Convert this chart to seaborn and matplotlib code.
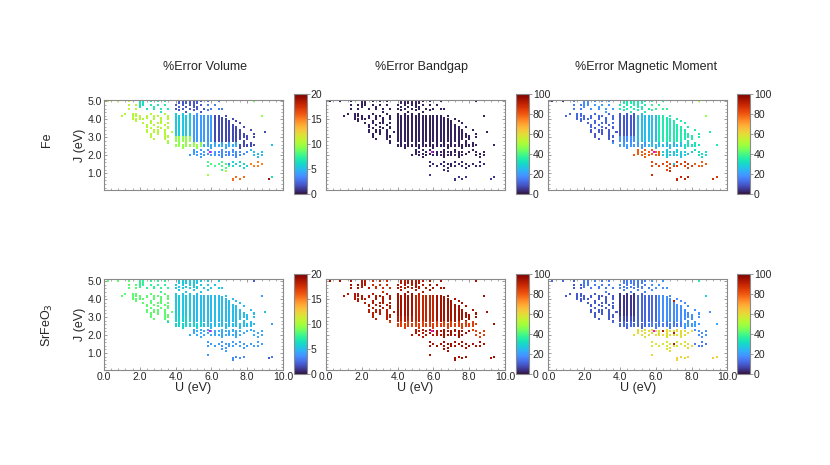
import numpy as np
import pandas as pd
import matplotlib
matplotlib.use("Agg")
import matplotlib.pyplot as plt
import seaborn as sns
from matplotlib.ticker import MultipleLocator, AutoMinorLocator
from matplotlib.cm import ScalarMappable
from matplotlib.colors import Normalize

# J values of the grid rows (eV), U runs every 0.2 eV from 0 to 10
j_rows = [5.0, 4.9, 4.8, 4.7, 4.6, 4.5, 4.4, 4.3, 4.2, 4.1, 4.0, 3.9, 3.8, 3.7, 3.6,
          3.5, 3.4, 3.3, 3.2, 3.1, 3.0, 2.9, 2.8, 2.7, 2.6, 2.5, 2.4, 2.3, 2.2, 2.1,
          2.0, 1.9, 1.8, 1.7, 1.6, 1.5, 1.4, 1.3, 1.2, 1.1, 1.0, 0.9, 0.8, 0.7, 0.6]

# which (U, J) runs exist, and which region of the map they belong to
zone_map = [
    "aa..a..b.." "cc.d.d.d.." ".ggggggg.h" "..h......." "..z........",
    ".........." "cc........" ".gggggg..." ".........." "...........",
    ".......b.b" "cc.d.d.d.." "g.g.gg.g.h" ".h........" "...........",
    ".........." "c...d....." ".g.g.gg..." ".........." "...........",
    ".......b.b" "..c.d.d.d." "g.g.g.g.g." "h.hh......" "...........",
    ".........." ".........." ".g...g...h" ".........." "...........",
    ".........." "......d..." "...g...g.." ".........." "...........",
    "......e.ee" "...e...e.." "i.i.i.k..." ".........." "...........",
    ".....e..ee" "e.e.ee..e." "iiiiikkkkk" "kll.l....." "....1......",
    "........e." "e.e.e.e.e." "iiiiikkkkk" "klll......" "...........",
    "........ee" "ee..e.e.e." "iiiiikkkkk" "kllll.l..." "...........",
    ".........e" "...e..e..." "iiiiikkkkk" "kllll3.l.." "...........",
    ".........." ".e.e.ee.e." "iiiiikkkkk" "klllll..l." "...........",
    ".........." "..e.e..e.." "iiiiikkkkk" "kllllll..." "...........",
    ".........." "..e..e..e." "iiiiikkkkk" "klllllll.l" "...........",
    ".........." "...f..f.f." "iiiiikkkkk" "klllllll.." "...........",
    ".........." "..f.ff.f.." "iiiiikkkkk" "kllllllll." ".l.........",
    ".........." "..f.ff.f.f" "iiiiikkkkk" "kllllllll." ".....l.....",
    ".........." "...f.f.f.." "iiiiikkkkk" "klllllllll" "..l........",
    ".........." "...f...ff." "iiiiikkkkk" "klllllllll" "l..........",
    ".........." "...f...ff." "jjjjjkkkkk" "klllllllll" "l.l........",
    ".........." "....f..f.." "jjjjjkkkkk" "kllllllll." "l..........",
    ".........." "........f." "jjjjjkkkkk" "klllllll.l" "...........",
    ".........." "........m." ".m.m.m.m.n" ".n.n.n.n.o" ".o.........",
    ".........." ".........." "mmmmmmmmnn" "nnnnnnnnoo" "ooo....2...",
    ".........." ".........." "mmmmmmmmnn" "nnnnnnnnoo" "oo.........",
    ".........." ".........." "..m...m..." "n...n...o." "...........",
    ".........." ".........." ".....p.p.p" "...q..q..." ".r.........",
    ".........." ".........." ".....pp.p." "pp4qqqqqq." "q.r.r......",
    ".........." ".........." ".....p.p.p" ".p.q.4.q.q" "...r.......",
    ".........." ".........." "....p.p.p." "ppqqqqqqq." "..r.r......",
    ".........." ".........." ".......p.." "...q...q.." "...r.......",
    ".........." ".........." ".........." ".........." "...........",
    ".........." ".........." ".........." ".........." "...........",
    ".........." ".........." ".........s" "...s..t.t." "...u.......",
    ".........." ".........." ".........." "s.s.s4.t.t" ".u..u......",
    ".........." ".........." ".........s" ".s.s.st.t." "t.uu.......",
    ".........." ".........." ".........." "....s....t" "...........",
    ".........." ".........." ".........." "...s......" "...........",
    ".........." ".........." ".........." "....v....." "...........",
    ".........." ".........." ".........." ".........." "...........",
    ".........." ".........." ".........v" ".........." "...........",
    ".........." ".........." ".........." ".......w.w" ".......y...",
    ".........." ".........." ".........." "......w.w." "......x....",
    ".........." ".........." ".........." "......w..." "...........",
]

zones = list("abcdefghijklmnopqrstuvwxyz1234")
fe_volume = [12, 11, 6.5, 7, 10.5, 10.5, 2, 3, 5.5, 9.5, 4, 1.5, 9.5, 4.5, 1.5,
             4, 3.5, 5, 8, 6, 15, 10, 15.5, 19, 6.5, 9, 9.5, 5, 1.5, 3.5]
fe_bandgap = [2, 2, 2, 2, 2, 2, 2, 2, 2, 2, 2, 2, 2, 2, 2,
              2, 2, 2, 3, 3, 3, 5, 5, 6, 5, 2, 2, 2, 2, 2]
fe_magmom = [5, 15, 18, 20, 12, 10, 35, 38, 10, 18, 25, 35, 20, 25, 33,
             80, 28, 32, 83, 85, 80, 88, 90, 88, 85, 50, 48, 35, 35, 28]
sr_volume = [8.5, 8.5, 7.5, 7.5, 8.5, 8.5, 5.5, 5.5, 5.5, 6, 5, 5, 6, 5, 5,
             4.5, 4.5, 4.5, 4, 4, 4, 4, 3.5, 2, 3, 2, 4, 4, 5, 4.5]
sr_bandgap = [95, 95, 93, 88, 93, 92, 93, 95, 95, 92, 90, 95, 85, 85, 85,
              93, 95, 85, 95, 95, 95, 95, 95, 95, 95, 95, 95, 95, 95, 95]
sr_magmom = [12, 10, 15, 15, 10, 10, 15, 18, 5, 8, 12, 18, 12, 15, 20,
             60, 60, 18, 58, 60, 15, 60, 62, 63, 62, 35, 30, 22, 92, 92]

ref_u, ref_j = 5.9, 2.2   # magenta reference run

u_cols = np.round(np.arange(51) * 0.2, 1)
pts = []
for j, row in zip(j_rows, zone_map):
    for u, z in zip(u_cols, row.ljust(51, ".")[:51]):
        if z != ".":
            pts.append((u, j, z))
df = pd.DataFrame(pts, columns=["U", "J", "zone"])
for name, vals in [("fe_vol", fe_volume), ("fe_gap", fe_bandgap), ("fe_mag", fe_magmom),
                   ("sr_vol", sr_volume), ("sr_gap", sr_bandgap), ("sr_mag", sr_magmom)]:
    df[name] = df["zone"].map(dict(zip(zones, vals)))

sns.set_style("ticks")
plt.rcParams["font.family"] = ["Liberation Sans", "DejaVu Sans"]
grey = "#8a8a8a"

fig = plt.figure(figsize=(8.3, 4.65), dpi=100)
ax_left = [0.1253, 0.3928, 0.6608]
cb_left = [0.3542, 0.6217, 0.888]
ax_bottom = [0.5908, 0.2043]
cb_bottom = [0.5822, 0.1951]

panels = [
    ("fe_vol", 20, [0, 5, 10, 15, 20]), ("fe_gap", 100, [0, 20, 40, 60, 80, 100]),
    ("fe_mag", 100, [0, 20, 40, 60, 80, 100]),
    ("sr_vol", 20, [0, 5, 10, 15, 20]), ("sr_gap", 100, [0, 20, 40, 60, 80, 100]),
    ("sr_mag", 100, [0, 20, 40, 60, 80, 100]),
]

for k, (col, vmax, cticks) in enumerate(panels):
    r, c = divmod(k, 3)
    ax = fig.add_axes([ax_left[c], ax_bottom[r], 0.2157, 0.1948])
    sns.scatterplot(data=df, x="U", y="J", hue=col, palette="turbo",
                    hue_norm=(0, vmax), marker="s", s=2.1, linewidth=0,
                    legend=False, ax=ax)
    ax.scatter([ref_u], [ref_j], marker="s", s=4, color="#ff00ff", linewidths=0, zorder=3)
    ax.set_xlim(0, 10)
    ax.set_ylim(0.05, 5.1)
    ax.xaxis.set_major_locator(MultipleLocator(2))
    ax.xaxis.set_minor_locator(AutoMinorLocator(5))
    ax.yaxis.set_major_locator(MultipleLocator(1))
    ax.yaxis.set_minor_locator(AutoMinorLocator(5))
    ax.tick_params(which="both", direction="in", top=True, right=True,
                   color=grey, labelsize=7.5, pad=1.5)
    ax.tick_params(which="major", length=2.5, width=0.6)
    ax.tick_params(which="minor", length=1.3, width=0.5)
    for sp in ax.spines.values():
        sp.set_color(grey)
        sp.set_linewidth(0.8)
    ax.set_xlabel("")
    ax.set_ylabel("")
    if r == 1:
        ax.set_xticklabels([f"{v:.1f}" for v in ax.get_xticks()])
        ax.set_xlabel("U (eV)", fontsize=9, labelpad=0)
    else:
        ax.set_xticklabels([])
    if c == 0:
        ax.set_yticks([1, 2, 3, 4, 5])
        ax.set_yticklabels([f"{v:.1f}" for v in [1, 2, 3, 4, 5]])
        ax.set_ylabel("J (eV)", fontsize=9, labelpad=1)
    else:
        ax.set_yticklabels([])

    cax = fig.add_axes([cb_left[c], cb_bottom[r], 0.0151, 0.2151])
    sm = ScalarMappable(norm=Normalize(0, vmax), cmap="turbo")
    cb = fig.colorbar(sm, cax=cax, ticks=cticks)
    cb.outline.set_edgecolor(grey)
    cb.outline.set_linewidth(0.8)
    cax.tick_params(length=2, width=0.6, color=grey, labelsize=7.5, pad=1)

titles = ["%Error Volume", "%Error Bandgap", "%Error Magnetic Moment"]
for x, t in zip([205 / 830, 421 / 830, 646 / 830], titles):
    fig.text(x, 1 - 67 / 465, t, ha="center", va="center", fontsize=9)
fig.text(47 / 830, 1 - 140 / 465, "Fe", rotation=90, ha="center", va="center", fontsize=9)
fig.text(47 / 830, 1 - 325 / 465, "SrFeO$_3$", rotation=90, ha="center", va="center", fontsize=9)

fig.savefig("out.png", dpi=100)
